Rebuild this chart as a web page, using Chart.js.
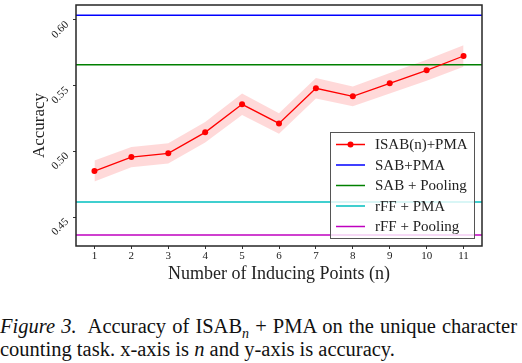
<!DOCTYPE html>
<html>
<head>
<meta charset="utf-8">
<script src="https://cdn.jsdelivr.net/npm/chart.js@4.4.1/dist/chart.umd.min.js"></script>
<style>
    body { margin: 0; background: #fff; width: 522px; height: 363px; overflow: hidden; }
    .wrap { position: relative; width: 522px; height: 285px; }
    .caption {
        font-family: "Liberation Serif", serif;
        font-size: 20.5px;
        line-height: 22.5px;
        color: #111;
        margin-top: 30px;
        width: 517px;
    }
    .caption .l1 { text-align: justify; text-align-last: justify; white-space: nowrap; }
    .caption .l2 { white-space: nowrap; }
    .caption sub { font-style: italic; font-size: 14px; line-height: 0; }
</style>
</head>
<body>
<div class="wrap"><canvas class="grafica"></canvas></div>
<div class="caption">
    <div class="l1"><i>Figure 3.</i>&nbsp; Accuracy of ISAB<sub>n</sub> + PMA on the unique character</div>
    <div class="l2">counting task. x-axis is <i>n</i> and y-axis is accuracy.</div>
</div>
<script>
const puntos = [1, 2, 3, 4, 5, 6, 7, 8, 9, 10, 11];
const isabPma = [0.4850, 0.4957, 0.4985, 0.5145, 0.5358, 0.5213, 0.5480, 0.5419, 0.5518, 0.5617, 0.5726];
const isabStd = [0.0080, 0.0077, 0.0077, 0.0078, 0.0082, 0.0078, 0.0078, 0.0075, 0.0078, 0.0080, 0.0082];
const sabPma = 0.6036;
const sabPooling = 0.5660;
const rffPma = 0.4614;
const rffPooling = 0.4363;
const yTicks = [0.45, 0.50, 0.55, 0.60];
const xRango = [0.5, 11.5];
const yRango = [0.428, 0.6114];

const serif = "'Liberation Serif', serif";

function linea(valor) {
    return xRango.map(x => ({x: x, y: valor}));
}

const serie = puntos.map((x, i) => ({x: x, y: isabPma[i]}));
const bajo = puntos.map((x, i) => ({x: x, y: isabPma[i] - isabStd[i]}));
const alto = puntos.map((x, i) => ({x: x, y: isabPma[i] + isabStd[i]}));

const leyenda = [
    {texto: "ISAB(n)+PMA", color: "#ff0000", punto: true},
    {texto: "SAB+PMA", color: "#0000ff"},
    {texto: "SAB + Pooling", color: "#008000"},
    {texto: "rFF + PMA", color: "#00bfbf"},
    {texto: "rFF + Pooling", color: "#bf00bf"}
];

// marco, etiquetas giradas del eje y y leyenda, estilo matplotlib
const marcoLeyenda = {
    id: "marcoLeyenda",
    afterDraw(chart) {
        const c = chart.ctx;
        const a = chart.chartArea;
        c.save();
        c.strokeStyle = "#262626";
        c.lineWidth = 1.5;
        c.strokeRect(a.left, a.top, a.right - a.left, a.bottom - a.top);

        const ys = chart.scales.y;
        c.font = "11px " + serif;
        c.fillStyle = "#222";
        c.textAlign = "right";
        c.textBaseline = "middle";
        yTicks.forEach(v => {
            c.save();
            c.translate(a.left - 9, ys.getPixelForValue(v) + 3);
            c.rotate(-Math.PI / 4);
            c.fillText(v.toFixed(2), 0, 0);
            c.restore();
        });

        const bx = 330, by = 132, bw = 144, bh = 106;
        c.fillStyle = "rgba(255,255,255,0.8)";
        c.fillRect(bx, by, bw, bh);
        c.strokeStyle = "#555";
        c.lineWidth = 1;
        c.strokeRect(bx + 0.5, by + 0.5, bw, bh);
        c.font = "15px " + serif;
        c.textAlign = "left";
        c.textBaseline = "middle";
        leyenda.forEach((item, i) => {
            const y = by + 12.5 + i * 20.5;
            c.strokeStyle = item.color;
            c.lineWidth = 1.5;
            c.beginPath();
            c.moveTo(336, y);
            c.lineTo(365, y);
            c.stroke();
            if (item.punto) {
                c.fillStyle = item.color;
                c.beginPath();
                c.arc(350.5, y, 3, 0, Math.PI * 2);
                c.fill();
            }
            c.fillStyle = "#222";
            c.fillText(item.texto, 375, y + 1);
        });
        c.restore();
    }
};

const data = {
    datasets: [
        {label: "bajo", data: bajo, borderWidth: 0, pointRadius: 0, fill: false, order: 5},
        {label: "alto", data: alto, borderWidth: 0, pointRadius: 0, fill: "-1",
            backgroundColor: "rgba(255,0,0,0.15)", order: 5},
        {label: "SAB+PMA", data: linea(sabPma), borderColor: "#0000ff", borderWidth: 1.5, pointRadius: 0, order: 2},
        {label: "SAB + Pooling", data: linea(sabPooling), borderColor: "#008000", borderWidth: 1.5, pointRadius: 0, order: 2},
        {label: "rFF + PMA", data: linea(rffPma), borderColor: "#00bfbf", borderWidth: 1.5, pointRadius: 0, order: 2},
        {label: "rFF + Pooling", data: linea(rffPooling), borderColor: "#bf00bf", borderWidth: 1.5, pointRadius: 0, order: 2},
        {label: "ISAB(n)+PMA", data: serie, borderColor: "#ff0000", backgroundColor: "#ff0000",
            borderWidth: 1.3, pointRadius: 3, pointBorderWidth: 0, order: 1}
    ]
};

const config = {
    type: "line",
    data: data,
    plugins: [marcoLeyenda],
    options: {
        responsive: false,
        animation: false,
        events: [],
        layout: {padding: {left: 0, right: 40, top: 5, bottom: 0}},
        plugins: {
            legend: {display: false},
            tooltip: {enabled: false}
        },
        scales: {
            x: {
                type: "linear",
                min: xRango[0],
                max: xRango[1],
                afterBuildTicks: s => { s.ticks = puntos.map(v => ({value: v})); },
                afterFit: s => { s.height = 39; },
                grid: {drawOnChartArea: false, drawTicks: true, tickLength: 3, color: "#333"},
                border: {display: false},
                ticks: {
                    font: {family: serif, size: 11},
                    color: "#222",
                    padding: 1,
                    maxRotation: 0,
                    callback: v => String(v)
                },
                title: {
                    display: true,
                    text: "Number of Inducing Points (n)",
                    font: {family: serif, size: 18},
                    color: "#222",
                    padding: {top: 0, bottom: 0}
                }
            },
            y: {
                min: yRango[0],
                max: yRango[1],
                afterBuildTicks: s => { s.ticks = yTicks.map(v => ({value: v})); },
                afterFit: s => { s.width = 76; },
                grid: {drawOnChartArea: false, drawTicks: true, tickLength: 3, color: "#333"},
                border: {display: false},
                ticks: {display: false},
                title: {
                    display: true,
                    text: "Accuracy",
                    font: {family: serif, size: 17},
                    color: "#222",
                    padding: {top: 29, bottom: 0}
                }
            }
        }
    }
};

const ctx = document.querySelector(".grafica");
ctx.width = 522;
ctx.height = 285;
const grafica = new Chart(ctx, config);
</script>
</body>
</html>
